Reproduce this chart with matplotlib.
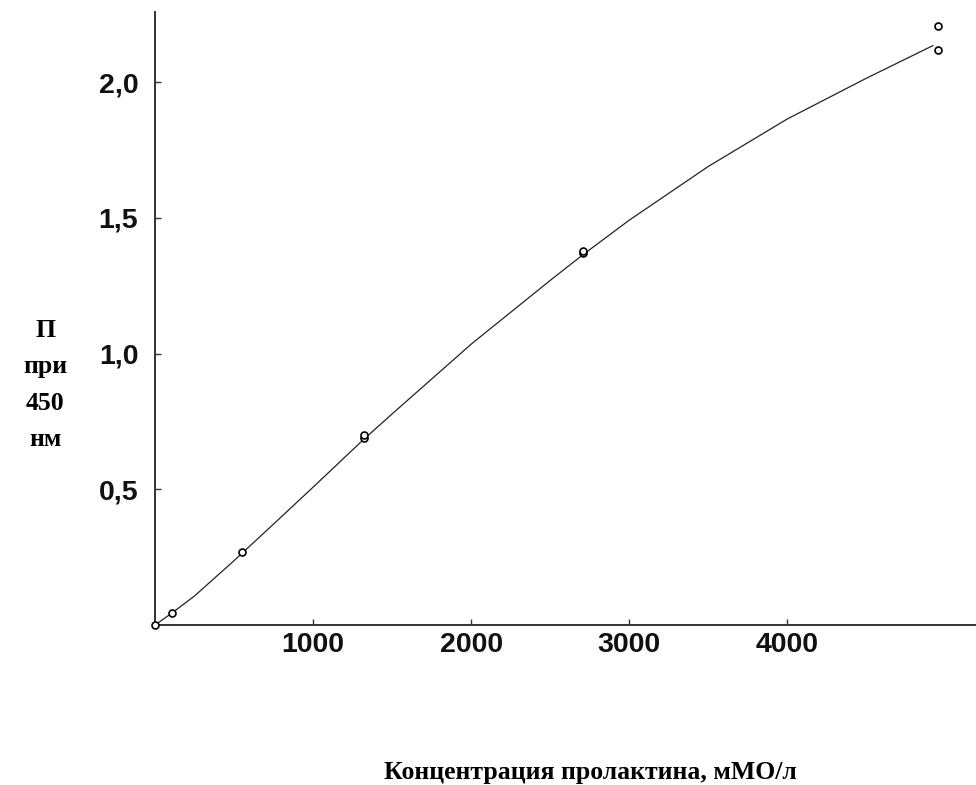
import matplotlib
matplotlib.use("Agg")
import matplotlib.pyplot as plt

# Measured standards (concentration, optical density)
conc = [0, 107, 550, 1320, 1320, 2710, 2710, 4953, 4953]
od = [0.0, 0.044, 0.269, 0.688, 0.700, 1.370, 1.378, 2.207, 2.119]

# Fitted calibration curve
curve_x = [0, 107, 250, 500, 750, 1000, 1320, 1500, 2000, 2500, 2710, 3000,
           3500, 4000, 4500, 4920]
curve_y = [0.0, 0.044, 0.107, 0.237, 0.372, 0.508, 0.684, 0.778, 1.035, 1.27,
           1.366, 1.492, 1.69, 1.865, 2.015, 2.135]

xticks = [1000, 2000, 3000, 4000]
yticks = [0.5, 1.0, 1.5, 2.0]
ytick_labels = ["0,5", "1,0", "1,5", "2,0"]
xtick_labels = ["1000", "2000", "3000", "4000"]

fig = plt.figure(figsize=(9.76, 7.85), dpi=100)
ax = fig.add_axes([155 / 976, 1 - 625 / 785, 1 - 155 / 976, (625 - 12) / 785])

ax.plot(curve_x, curve_y, color="#222222", lw=0.9, zorder=2)
ax.plot(conc, od, linestyle="none", marker="o", ms=5, mfc="white",
        mec="black", mew=1.2, zorder=3, clip_on=False)

ax.set_xlim(0, 5193)
ax.set_ylim(0, 2.259)
for s in ["top", "right"]:
    ax.spines[s].set_visible(False)
for s in ["left", "bottom"]:
    ax.spines[s].set_linewidth(1.4)
    ax.spines[s].set_color("#333333")

ax.set_xticks(xticks)
ax.set_xticklabels(xtick_labels)
ax.set_yticks(yticks)
ax.set_yticklabels(ytick_labels)
ax.tick_params(direction="in", length=4, width=1, color="#333333")
ax.tick_params(axis="x", pad=5)
ax.tick_params(axis="y", pad=12)
for lab in ax.get_xticklabels() + ax.get_yticklabels():
    lab.set_fontfamily("Liberation Sans")
    lab.set_fontsize(20.5)
    lab.set_fontweight("semibold")
    lab.set_color("#111111")

fig.text(45 / 976, 1 - 385 / 785, "П\nпри\n450\nнм", ha="center", va="center",
         fontfamily="Liberation Serif", fontweight="bold", fontsize=18.5,
         linespacing=1.75)
fig.text(590 / 976, 1 - 772 / 785, "Концентрация пролактина, мМО/л",
         ha="center", va="center", fontfamily="Liberation Serif",
         fontweight="bold", fontsize=18.5)

fig.savefig("out.png", dpi=100)
